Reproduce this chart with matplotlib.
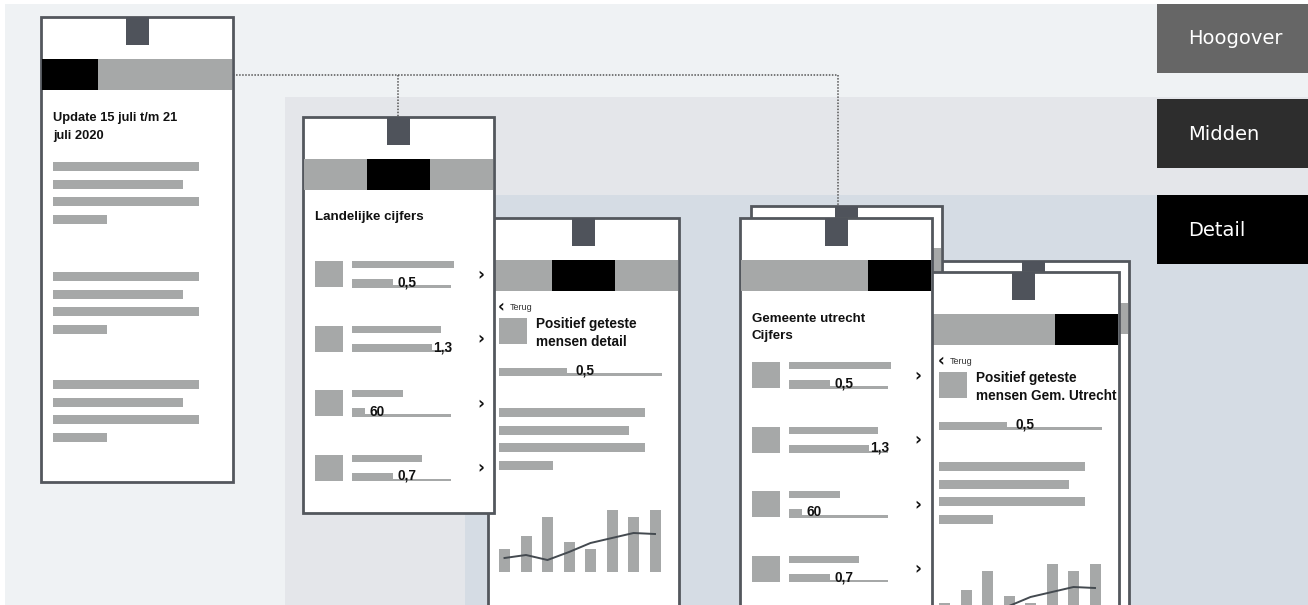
import matplotlib.pyplot as plt
from matplotlib.patches import Rectangle

# DATA

# layers (label boxes on the right)
layer_names = ['Hoogover', 'Midden', 'Detail']

# list screens: value per row, fill of the value bar, length of the label bar
row_values = ['0,5', '1,3', '60', '0,7']
row_fill = [0.41, 0.81, 0.13, 0.41]
row_label = [1.03, 0.90, 0.52, 0.71]

# paragraph placeholder line lengths (px)
para_lines = [146, 130, 146, 54]

# mini chart on the detail screens
chart_bars = [23, 36, 55, 30, 23, 62, 55, 62]
chart_line = [14, 17, 12, 20, 29, 34, 39, 38]

# screen titles
title_home = 'Update 15 juli t/m 21\njuli 2020'
title_land = 'Landelijke cijfers'
title_gem = 'Gemeente utrecht\nCijfers'
title_det1 = 'Positief geteste\nmensen detail'
title_det2 = 'Positief geteste\nmensen Gem. Utrecht'
metric_value = '0,5'
metric_fill = 0.42

# COLOURS
c_layer = ['#eff2f4', '#e4e6ea', '#d5dce4']
c_label = ['#666666', '#2d2d2d', '#000000']
c_border = '#53575d'
c_notch = '#4f535b'
c_gray = '#a6a8a8'
c_text = '#111111'

FONT = 'Liberation Sans'

fig = plt.figure(figsize=(13.08, 6.05), dpi=100)
ax = fig.add_axes([0, 0, 1, 1])
ax.set_xlim(0, 1308)
ax.set_ylim(605, 0)
ax.axis('off')


def rect(x, y, w, h, color, z=1, **kw):
    ax.add_patch(Rectangle((x, y), w, h, facecolor=color, edgecolor='none', zorder=z, **kw))


# BACKGROUND LAYERS
rect(5, 4, 1303, 601, c_layer[0], z=0)
rect(285, 97, 1023, 508, c_layer[1], z=0)
rect(465, 195, 843, 410, c_layer[2], z=0)

label_y = [4, 99, 195]
for i, name in enumerate(layer_names):
    rect(1157, label_y[i], 151, 69, c_label[i], z=1)
    ax.text(1188, label_y[i] + 35, name, color='white', fontsize=14,
            family='DejaVu Sans', va='center', ha='left', zorder=2)

# DOTTED CONNECTORS
dot = dict(color='#555555', lw=1.1, linestyle=(0, (1, 1)), zorder=1)
ax.plot([233, 838], [75, 75], **dot)
ax.plot([398, 398], [75, 117], **dot)
ax.plot([838, 838], [75, 218], **dot)


def phone(x, y, w, h, nav, z):
    ax.add_patch(Rectangle((x, y), w, h, facecolor='white', edgecolor=c_border,
                           lw=2, zorder=z))
    rect(x + w / 2 - 11.5, y, 23, 28, c_notch, z=z + 0.1)
    rect(x + 1, y + 42, w - 2, 31, c_gray, z=z + 0.1)
    if nav is not None:
        rect(x + 1 + (w - 2) * nav[0], y + 42, (w - 2) * (nav[1] - nav[0]), 31,
             'black', z=z + 0.2)


def paragraph(x, y, z):
    for k, ln in enumerate(para_lines):
        rect(x, y + k * 17.7, ln, 9, c_gray, z=z)


def list_screen(x, y, title, z):
    n = title.count('\n')
    ax.text(x + 12, y + 100 + n * 9.5, title, fontsize=9.6, weight='bold', family=FONT,
            color=c_text, va='center', linespacing=1.6, zorder=z)
    for i, val in enumerate(row_values):
        ty = y + 144 + i * 64.5
        rect(x + 12, ty, 28, 26, c_gray, z=z)
        rect(x + 49, ty, 99 * row_label[i], 7, c_gray, z=z)
        rect(x + 49, ty + 24, 99, 2.5, c_gray, z=z)
        fill_end = x + 49 + 99 * row_fill[i]
        rect(x + 49, ty + 18, 99 * row_fill[i], 8, c_gray, z=z)
        tx = min(fill_end + 5, x + 148 - 18)
        ax.text(tx, ty + 25.5, val, fontsize=9.8, weight='bold', family=FONT,
                color=c_text, va='baseline', zorder=z + 0.1)
        ax.text(x + 178, ty + 14, '›', fontsize=12, weight='bold', family='DejaVu Sans',
                color=c_text, va='center', ha='center', zorder=z)


def detail_screen(x, y, title, z):
    ax.text(x + 10, y + 89, '‹', fontsize=12, weight='bold', family='DejaVu Sans',
            color=c_text, va='center', zorder=z)
    ax.text(x + 22, y + 90, 'Terug', fontsize=6.5, family=FONT,
            color='#333333', va='center', zorder=z)
    rect(x + 11, y + 100, 28, 26, c_gray, z=z)
    ax.text(x + 48, y + 115, title, fontsize=9.8, weight='bold', family=FONT,
            color=c_text, va='center', linespacing=1.35, zorder=z)
    rect(x + 11, y + 150, 163 * metric_fill, 7, c_gray, z=z)
    rect(x + 11, y + 155, 163, 2.5, c_gray, z=z)
    ax.text(x + 88, y + 156.5, metric_value, fontsize=9.8, weight='bold', family=FONT,
            color=c_text, va='baseline', zorder=z + 0.1)
    paragraph(x + 11, y + 190, z)
    base = y + 354
    xs = [x + 11 + i * 21.5 for i in range(len(chart_bars))]
    ax.bar(xs, [-b for b in chart_bars], bottom=base, width=11, align='edge',
           color=c_gray, zorder=z)
    ax.plot([v + 5.5 for v in xs], [base - v for v in chart_line], color='#444a50',
            lw=1.4, zorder=z + 0.1)


# SCREEN 1: Hoogover
phone(41, 17, 192, 465, (0, 0.295), 3)
ax.text(53, 127, title_home, fontsize=9.3, weight='bold', family=FONT, color=c_text,
        va='center', linespacing=1.65, zorder=4)
for gy in [162, 272, 380]:
    paragraph(53, gy, 4)

# SCREEN 3 (behind screen 2): detail landelijk
phone(488, 218, 191, 420, (1 / 3, 2 / 3), 3)
detail_screen(488, 218, title_det1, 4)

# SCREEN 2: landelijke cijfers
phone(303, 117, 191, 396, (1 / 3, 2 / 3), 5)
list_screen(303, 117, title_land, 6)

# SCREEN 5 stack: back card, then SCREEN 4 back card, then SCREEN 5 front
phone(938, 261, 191, 420, None, 7)
phone(751, 206, 191, 420, None, 8)
phone(928, 272, 191, 420, (2 / 3, 1), 9)
detail_screen(928, 272, title_det2, 10)

# SCREEN 4 front: gemeente cijfers
phone(740, 218, 192, 420, (2 / 3, 1), 11)
list_screen(740, 218, title_gem, 12)

fig.savefig('out.png', dpi=100, facecolor='white')
